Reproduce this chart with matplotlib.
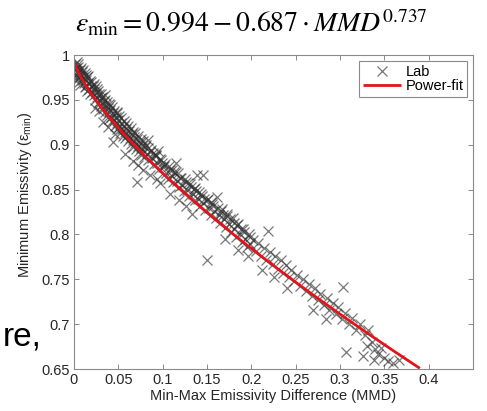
import numpy as np
import matplotlib
matplotlib.use("Agg")
import matplotlib.pyplot as plt

plt.rcParams['font.family'] = ['Liberation Sans', 'DejaVu Sans']
plt.rcParams['mathtext.fontset'] = 'custom'
plt.rcParams['mathtext.rm'] = 'Liberation Sans'
plt.rcParams['mathtext.it'] = 'Liberation Sans:italic'

# Laboratory measurements: min-max emissivity difference vs. minimum emissivity
mmd = [
    0.001, 0.002, 0.003, 0.002, 0.004, 0.005, 0.006, 0.004, 0.007, 0.008,
    0.009, 0.010, 0.011, 0.012, 0.013, 0.014, 0.015, 0.016, 0.017, 0.018,
    0.019, 0.020, 0.003, 0.006, 0.009, 0.012, 0.015, 0.018, 0.001, 0.007,
    0.021, 0.022, 0.023, 0.024, 0.025, 0.026, 0.027, 0.028, 0.029, 0.030,
    0.031, 0.032, 0.033, 0.034, 0.035, 0.036, 0.037, 0.038, 0.039, 0.040,
    0.041, 0.042, 0.043, 0.044, 0.045, 0.046, 0.047, 0.048, 0.049, 0.050,
    0.024, 0.028, 0.033, 0.044, 0.038, 0.046, 0.026, 0.035, 0.041, 0.049,
    0.051, 0.052, 0.053, 0.054, 0.055, 0.056, 0.057, 0.058, 0.059, 0.060,
    0.061, 0.062, 0.063, 0.064, 0.065, 0.066, 0.067, 0.068, 0.069, 0.070,
    0.071, 0.072, 0.073, 0.074, 0.075, 0.076, 0.077, 0.078, 0.079, 0.080,
    0.082, 0.084, 0.086, 0.088, 0.090, 0.092, 0.094, 0.096, 0.098, 0.100,
    0.058, 0.066, 0.072, 0.078, 0.086, 0.094, 0.083, 0.095, 0.071, 0.097,
    0.102, 0.104, 0.106, 0.108, 0.110, 0.112, 0.114, 0.116, 0.118, 0.120,
    0.122, 0.124, 0.126, 0.128, 0.130, 0.132, 0.134, 0.136, 0.138, 0.140,
    0.142, 0.144, 0.146, 0.148, 0.150, 0.108, 0.118, 0.126, 0.139, 0.145,
    0.115, 0.133,
    0.152, 0.154, 0.156, 0.158, 0.160, 0.161, 0.163, 0.165, 0.167, 0.169,
    0.171, 0.173, 0.175, 0.177, 0.179, 0.181, 0.183, 0.185, 0.187, 0.189,
    0.191, 0.193, 0.195, 0.197, 0.199, 0.150, 0.170, 0.185, 0.196,
    0.202, 0.205, 0.208, 0.211, 0.214, 0.217, 0.219, 0.221, 0.224, 0.227,
    0.230, 0.233, 0.236, 0.239, 0.242, 0.245, 0.248, 0.212, 0.226, 0.240,
    0.252, 0.255, 0.258, 0.262, 0.265, 0.268, 0.272, 0.275, 0.278, 0.282,
    0.285, 0.288, 0.292, 0.295, 0.298, 0.303, 0.270, 0.284,
    0.302, 0.306, 0.307, 0.310, 0.314, 0.318, 0.322, 0.326, 0.328, 0.332,
    0.336, 0.340, 0.343, 0.346, 0.350, 0.354, 0.360, 0.367, 0.338, 0.330,
    0.003, 0.005, 0.008, 0.010, 0.013, 0.016, 0.019, 0.022, 0.025, 0.027,
    0.030, 0.032, 0.035, 0.037, 0.040, 0.043, 0.045, 0.048, 0.051, 0.053,
    0.056, 0.059, 0.061, 0.064, 0.067, 0.069, 0.072, 0.075, 0.078, 0.081,
    0.083, 0.087, 0.089, 0.091, 0.093, 0.097, 0.099, 0.103, 0.107, 0.111,
    0.113, 0.117, 0.121, 0.125, 0.129, 0.131, 0.135, 0.137, 0.141, 0.143,
    0.147, 0.151, 0.155, 0.157, 0.162, 0.166, 0.168, 0.172, 0.176, 0.180,
    0.184, 0.188, 0.192, 0.198,
]
emis_min = [
    0.990, 0.985, 0.982, 0.978, 0.987, 0.980, 0.976, 0.973, 0.983, 0.978,
    0.972, 0.976, 0.969, 0.980, 0.972, 0.966, 0.975, 0.969, 0.962, 0.971,
    0.965, 0.959, 0.976, 0.970, 0.981, 0.964, 0.960, 0.957, 0.983, 0.967,
    0.966, 0.955, 0.962, 0.950, 0.958, 0.953, 0.946, 0.957, 0.949, 0.943,
    0.952, 0.945, 0.940, 0.949, 0.937, 0.944, 0.933, 0.941, 0.936, 0.929,
    0.939, 0.931, 0.926, 0.935, 0.928, 0.921, 0.931, 0.924, 0.918, 0.927,
    0.941, 0.938, 0.925, 0.903, 0.920, 0.912, 0.962, 0.950, 0.944, 0.935,
    0.920, 0.913, 0.924, 0.917, 0.910, 0.921, 0.914, 0.907, 0.918, 0.911,
    0.904, 0.915, 0.908, 0.901, 0.912, 0.905, 0.898, 0.909, 0.902, 0.895,
    0.906, 0.899, 0.893, 0.903, 0.896, 0.889, 0.900, 0.893, 0.886, 0.897,
    0.890, 0.883, 0.892, 0.885, 0.879, 0.888, 0.880, 0.873, 0.883, 0.875,
    0.890, 0.882, 0.877, 0.872, 0.866, 0.862, 0.905, 0.893, 0.858, 0.857,
    0.876, 0.869, 0.862, 0.872, 0.865, 0.858, 0.868, 0.860, 0.853, 0.863,
    0.855, 0.848, 0.858, 0.850, 0.843, 0.853, 0.845, 0.838, 0.848, 0.840,
    0.832, 0.843, 0.835, 0.827, 0.838, 0.845, 0.838, 0.832, 0.866, 0.866,
    0.880, 0.823,
    0.830, 0.822, 0.834, 0.826, 0.818, 0.842, 0.822, 0.813, 0.828, 0.817,
    0.808, 0.823, 0.812, 0.803, 0.818, 0.806, 0.797, 0.812, 0.800, 0.792,
    0.806, 0.795, 0.786, 0.800, 0.789, 0.771, 0.795, 0.783, 0.776,
    0.794, 0.782, 0.790, 0.776, 0.785, 0.772, 0.804, 0.780, 0.767, 0.776,
    0.762, 0.771, 0.757, 0.766, 0.752, 0.760, 0.748, 0.760, 0.752, 0.740,
    0.755, 0.742, 0.750, 0.737, 0.745, 0.731, 0.740, 0.727, 0.734, 0.721,
    0.729, 0.716, 0.724, 0.711, 0.719, 0.741, 0.716, 0.706,
    0.706, 0.712, 0.669, 0.700, 0.707, 0.694, 0.700, 0.664, 0.688, 0.694,
    0.680, 0.672, 0.667, 0.673, 0.662, 0.659, 0.657, 0.660, 0.660, 0.676,
    0.992, 0.990, 0.985, 0.983, 0.978, 0.977, 0.970, 0.968, 0.965, 0.960,
    0.957, 0.953, 0.955, 0.948, 0.945, 0.942, 0.938, 0.936, 0.932, 0.930,
    0.926, 0.924, 0.921, 0.919, 0.914, 0.913, 0.910, 0.906, 0.904, 0.900,
    0.896, 0.894, 0.891, 0.889, 0.887, 0.884, 0.880, 0.879, 0.876, 0.872,
    0.870, 0.868, 0.863, 0.862, 0.857, 0.856, 0.851, 0.852, 0.847, 0.845,
    0.840, 0.839, 0.836, 0.832, 0.830, 0.826, 0.822, 0.820, 0.817, 0.813,
    0.810, 0.806, 0.803, 0.797,
]

# Power-fit coefficients: eps_min = a - b * MMD**c
fit_a, fit_b, fit_c = 0.994, 0.687, 0.737

x_ticks = [0, 0.05, 0.1, 0.15, 0.2, 0.25, 0.3, 0.35, 0.4]
y_ticks = [0.65, 0.7, 0.75, 0.8, 0.85, 0.9, 0.95, 1]

W, H = 487, 411
fig = plt.figure(figsize=(W / 100, H / 100), dpi=100)
ax = fig.add_axes([74 / W, 1 - 369 / H, (473 - 74) / W, (369 - 55) / H])

ax.plot(mmd, emis_min, linestyle='none', marker='x', markersize=7.5,
        markeredgewidth=0.9, color='#303030', alpha=0.65, label='Lab')

xf = np.linspace(0, 0.39, 300)
ax.plot(xf, fit_a - fit_b * xf ** fit_c, color='#e0141b', lw=2.0,
        label='Power-fit', solid_capstyle='butt')

ax.set_xlim(0, 0.45)
ax.set_ylim(0.65, 1)
ax.set_xticks(x_ticks)
ax.set_xticklabels([f'{t:g}' for t in x_ticks])
ax.set_yticks(y_ticks)
ax.set_yticklabels([f'{t:g}' for t in y_ticks])

spine_col = '#8a8a8a'
for s in ax.spines.values():
    s.set_color(spine_col)
    s.set_linewidth(0.8)
ax.tick_params(direction='in', length=3.5, width=0.7, color=spine_col,
               top=True, right=True, labelsize=10.5, labelcolor='#262626',
               pad=3)

ax.set_xlabel('Min-Max Emissivity Difference (MMD)', fontsize=10.5,
              color='#262626', labelpad=1)
fig.text(25 / W, 1 - 195 / H, r'Minimum Emissivity (ε$_{\mathrm{min}}$)',
         rotation=90, ha='center', va='center', fontsize=10.5,
         color='#262626')

leg = ax.legend(loc='upper right', bbox_to_anchor=(467 / W, 1 - 61 / H),
                bbox_transform=fig.transFigure, borderaxespad=0,
                fontsize=10.5, frameon=True, fancybox=False, framealpha=1,
                edgecolor=spine_col, handlelength=2.6, handletextpad=0.3,
                borderpad=0.25, labelspacing=0.05)
leg.get_frame().set_linewidth(0.8)

fig.text(251 / W, 1 - 32 / H,
         r'$\varepsilon_{\mathrm{min}} = 0.994 - 0.687 \cdot MMD^{0.737}$',
         ha='center', va='baseline', fontsize=20, math_fontfamily='stix')

fig.text(3 / W, 1 - 345 / H, 're,', ha='left', va='baseline', fontsize=24)

fig.savefig('out.png', dpi=100)
